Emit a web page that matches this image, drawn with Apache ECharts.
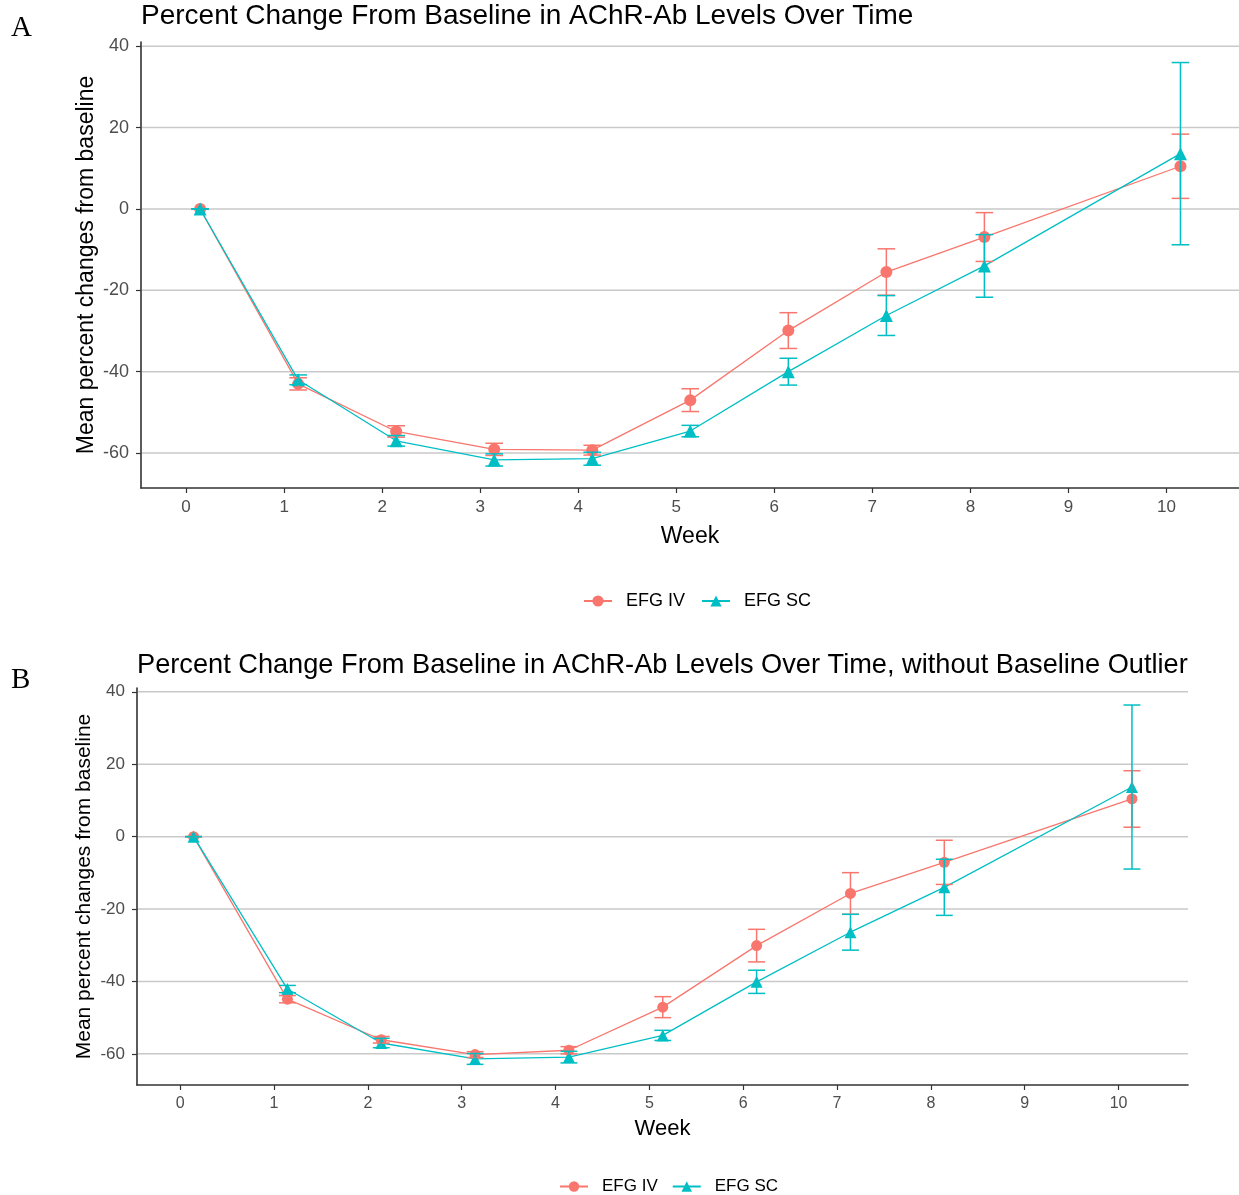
<!DOCTYPE html>
<html><head><meta charset="utf-8">
<script src="https://cdn.jsdelivr.net/npm/echarts@6/dist/echarts.min.js"></script>
<style>html,body{margin:0;padding:0;background:#fff}#c{width:1239px;height:1195px}</style>
</head><body><div id="c"></div>
<script>
// Visit day (converted to weeks for the x axis)
const visitDays = [1, 8, 15, 22, 29, 36, 43, 50, 57, 71];
const weekTicks = [0, 1, 2, 3, 4, 5, 6, 7, 8, 9, 10];
const yTicks = [-60, -40, -20, 0, 20, 40];
const seriesNames = ['EFG IV', 'EFG SC'];

// Panel A: all patients
const ivMeanA = [0, -43.0, -54.7, -59.1, -59.3, -47.0, -29.9, -15.5, -6.9, 10.5];
const ivErrA  = [0, 1.5, 1.4, 1.5, 1.2, 2.8, 4.4, 5.7, 6.0, 7.9];
const scMeanA = [0, -42.0, -57.0, -61.7, -61.4, -54.6, -40.0, -26.2, -14.0, 13.6];
const scErrA  = [0, 1.2, 1.3, 1.5, 1.6, 1.4, 3.3, 4.9, 7.7, 22.4];

// Panel B: without baseline outlier
const ivMeanB = [0, -44.9, -56.1, -60.2, -59.0, -47.1, -30.1, -15.7, -7.1, 10.4];
const ivErrB  = [0, 1.0, 0.9, 0.8, 1.0, 2.9, 4.5, 5.75, 6.1, 7.8];
const scMeanB = [0, -42.1, -57.0, -61.4, -60.9, -54.9, -40.1, -26.4, -14.0, 13.7];
const scErrB  = [0, 1.0, 1.3, 1.5, 1.6, 1.4, 3.2, 4.95, 7.75, 22.65];

const titleA = 'Percent Change From Baseline in AChR-Ab Levels Over Time';
const titleB = 'Percent Change From Baseline in AChR-Ab Levels Over Time, without Baseline Outlier';
const yName = 'Mean percent changes from baseline';
const xName = 'Week';

const FONT = '"Liberation Sans", Arial, sans-serif';
const SERIF = '"Liberation Serif", "Times New Roman", serif';
const IV = '#F8766D', SC = '#00BFC4';
const weeks = visitDays.map(d => d / 7);

function lineData(means) { return weeks.map((w, i) => [w, means[i]]); }
function errData(means, errs) { return weeks.map((w, i) => [w, means[i] - errs[i], means[i] + errs[i]]); }

function gridLines(idx) {
  return {
    type: 'custom', name: 'grid' + idx, xAxisIndex: idx, yAxisIndex: idx, z: 1, silent: true,
    data: yTicks.map(v => [0, v]), encode: { x: 0, y: 1 },
    renderItem(params, api) {
      const cs = params.coordSys;
      const y = api.coord([0, api.value(1)])[1];
      return { type: 'line', shape: { x1: cs.x + 1, y1: y, x2: cs.x + cs.width, y2: y },
        style: { stroke: '#c9c9c9', lineWidth: 1.5 } };
    }
  };
}

function lineSeries(name, color, idx, means, symbol, size) {
  return {
    type: 'line', name, xAxisIndex: idx, yAxisIndex: idx, z: 3,
    data: lineData(means), symbol, symbolSize: size, showSymbol: true,
    itemStyle: { color }, lineStyle: { color, width: 1.3 }, animation: false
  };
}

function errSeries(name, color, idx, means, errs) {
  return {
    type: 'custom', name: name + ' err', xAxisIndex: idx, yAxisIndex: idx, z: 4, silent: true,
    data: errData(means, errs), encode: { x: 0, y: [1, 2] },
    renderItem(params, api) {
      const x = api.value(0), lo = api.value(1), hi = api.value(2);
      const hw = 0.09;
      const a = api.coord([x, lo]), b = api.coord([x, hi]);
      const l1 = api.coord([x - hw, lo]), r1 = api.coord([x + hw, lo]);
      const l2 = api.coord([x - hw, hi]), r2 = api.coord([x + hw, hi]);
      const style = { stroke: color, lineWidth: 1.5, fill: null };
      return { type: 'group', children: [
        { type: 'line', shape: { x1: a[0], y1: a[1], x2: b[0], y2: b[1] }, style },
        { type: 'line', shape: { x1: l1[0], y1: l1[1], x2: r1[0], y2: r1[1] }, style },
        { type: 'line', shape: { x1: l2[0], y1: l2[1], x2: r2[0], y2: r2[1] }, style }
      ] };
    }
  };
}

function xAxis(idx, fs, nameFs, gap) {
  return {
    type: 'value', gridIndex: idx, min: -0.46, max: 10.74,
    axisLine: { show: true, onZero: false, lineStyle: { color: '#333', width: 1.6 } },
    axisTick: { show: true, customValues: weekTicks, length: 5, lineStyle: { color: '#333', width: 1.2 } },
    axisLabel: { customValues: weekTicks, color: '#4d4d4d', fontSize: fs, fontFamily: FONT, margin: 11 },
    splitLine: { show: false },
    name: xName, nameLocation: 'middle', nameGap: gap,
    nameTextStyle: { fontSize: nameFs, color: '#000', fontFamily: FONT }
  };
}
function yAxis(idx, fs, nameFs, gap) {
  return {
    type: 'value', gridIndex: idx, min: -68.6, max: 41.05,
    axisLine: { show: true, onZero: false, lineStyle: { color: '#333', width: 1.6 } },
    axisTick: { show: true, customValues: yTicks, length: 5, lineStyle: { color: '#333', width: 1.2 } },
    axisLabel: { customValues: yTicks, color: '#4d4d4d', fontSize: fs, fontFamily: FONT, margin: 12 },
    splitLine: { show: false },
    name: yName, nameLocation: 'middle', nameGap: gap, nameRotate: 90, nameMoveOverlap: false,
    nameTextStyle: { fontSize: nameFs, color: '#000', fontFamily: FONT }
  };
}

const chart = echarts.init(document.getElementById('c'), null, { renderer: 'canvas' });
chart.setOption({
  animation: false,
  backgroundColor: '#fff',
  title: [
    { text: 'A', left: 11, top: 14, padding: 0, textStyle: { fontFamily: SERIF, fontSize: 29, fontWeight: 'normal', color: '#000' } },
    { text: titleA, left: 141, top: 2, padding: 0, textStyle: { fontFamily: FONT, fontSize: 28, fontWeight: 'normal', color: '#000' } },
    { text: 'B', left: 11, top: 666, padding: 0, textStyle: { fontFamily: SERIF, fontSize: 29, fontWeight: 'normal', color: '#000' } },
    { text: titleB, left: 137, top: 652, padding: 0, textStyle: { fontFamily: FONT, fontSize: 27.2, fontWeight: 'normal', color: '#000' } }
  ],
  legend: [
    { data: seriesNames, left: 583, top: 592, itemWidth: 28, itemHeight: 14, itemGap: 16, padding: 0,
      textStyle: { fontSize: 18, color: '#000', fontFamily: FONT, padding: [0, 0, 0, 9] } },
    { data: seriesNames, left: 559, top: 1178, itemWidth: 28, itemHeight: 13, itemGap: 14, padding: 0,
      textStyle: { fontSize: 17, color: '#000', fontFamily: FONT, padding: [0, 0, 0, 9] } }
  ],
  grid: [
    { left: 141, top: 42, width: 1098, height: 446 },
    { left: 137, top: 688, width: 1051, height: 397 }
  ],
  xAxis: [xAxis(0, 17, 23, 37), xAxis(1, 16, 22, 33)],
  yAxis: [yAxis(0, 18, 23, 43), yAxis(1, 17, 21, 42)],
  series: [
    lineSeries('EFG IV', IV, 0, ivMeanA, 'circle', 12),
    lineSeries('EFG SC', SC, 0, scMeanA, 'triangle', 13),
    lineSeries('EFG IV', IV, 1, ivMeanB, 'circle', 11),
    lineSeries('EFG SC', SC, 1, scMeanB, 'triangle', 12),
    gridLines(0), gridLines(1),
    errSeries('EFG IV', IV, 0, ivMeanA, ivErrA),
    errSeries('EFG SC', SC, 0, scMeanA, scErrA),
    errSeries('EFG IV', IV, 1, ivMeanB, ivErrB),
    errSeries('EFG SC', SC, 1, scMeanB, scErrB)
  ]
});
</script></body></html>
